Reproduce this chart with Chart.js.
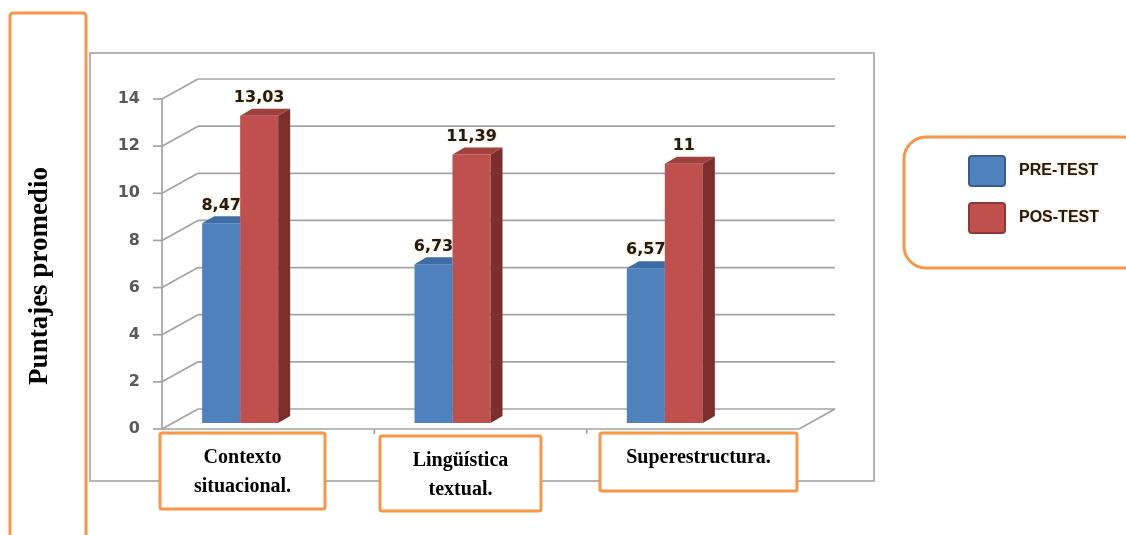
<!DOCTYPE html>
<html>
<head>
<meta charset="utf-8">
<script src="https://cdn.jsdelivr.net/npm/chart.js@4.4.1/dist/chart.umd.min.js"></script>
<style>
    html, body { margin: 0; padding: 0; background: #fff; }
    #wrap { width: 1126px; height: 535px; }
</style>
</head>
<body>
<div id="wrap"><canvas id="chart" width="1126" height="535"></canvas></div>
<script>
    // averages per dimension, before and after the programme
    const categories = [['Contexto', 'situacional.'], ['Lingüística', 'textual.'], ['Superestructura.']];
    const seriesNames = ['PRE-TEST', 'POS-TEST'];
    const preTest = [8.47, 6.73, 6.57];
    const posTest = [13.03, 11.39, 11];
    const yTicks = [0, 2, 4, 6, 8, 10, 12, 14];
    const yTitle = 'Puntajes promedio';

    const faces = [
        { front: '#4f81bd', top: '#3e6ca4', side: '#2f5686', edge: '#385d8a' },
        { front: '#c0504d', top: '#a1403d', side: '#7b2e2c', edge: '#8c3836' }
    ];
    const ORANGE = '#f79646';
    const GRID = '#a3a3a3';

    // fake 3D: offsets of the planes relative to the bars' front faces
    const DEPTH = { dx: 12, dy: -7 };
    const FRONT = { dx: 28, dy: 6 };
    const BACK = { dx: 64, dy: -14 };

    // boxes around the category names
    const labelBoxes = [
        { x: 160, y: 433, w: 165, h: 76 },
        { x: 380, y: 436, w: 161, h: 75 },
        { x: 600, y: 433, w: 197, h: 58 }
    ];

    function line(ctx, x1, y1, x2, y2) {
        ctx.beginPath();
        ctx.moveTo(x1, y1);
        ctx.lineTo(x2, y2);
        ctx.stroke();
    }

    function roundBox(ctx, x, y, w, h, r) {
        ctx.beginPath();
        ctx.roundRect(x, y, w, h, r);
        ctx.fillStyle = '#fff';
        ctx.fill();
        ctx.stroke();
    }

    function barRect(bar) {
        const p = bar.getProps(['x', 'y', 'width', 'base'], true);
        return { l: p.x - p.width / 2, r: p.x + p.width / 2, top: p.y, base: p.base, x: p.x };
    }

    const fake3d = {
        id: 'fake3d',
        beforeDraw(chart) {
            const ctx = chart.ctx;
            ctx.save();
            ctx.fillStyle = '#fff';
            ctx.fillRect(0, 0, chart.width, chart.height);
            // chart frame
            ctx.strokeStyle = '#b4b4b4';
            ctx.lineWidth = 2;
            ctx.strokeRect(90, 53, 784, 428);
            ctx.restore();
        },
        beforeDatasetsDraw(chart) {
            const ctx = chart.ctx;
            const area = chart.chartArea;
            const y = chart.scales.y;
            const fl = area.left + FRONT.dx, fr = area.right + FRONT.dx;
            const bl = area.left + BACK.dx, br = area.right + BACK.dx;
            ctx.save();
            ctx.strokeStyle = GRID;
            ctx.lineWidth = 1.7;
            yTicks.forEach(v => {
                const py = y.getPixelForValue(v);
                line(ctx, bl, py + BACK.dy, br, py + BACK.dy);
                line(ctx, fl, py + FRONT.dy, bl, py + BACK.dy);
                line(ctx, fl - 9, py + FRONT.dy, fl, py + FRONT.dy);
            });
            const top = y.getPixelForValue(yTicks[yTicks.length - 1]);
            const base = y.getPixelForValue(0);
            line(ctx, fl, top + FRONT.dy, fl, base + FRONT.dy);
            // floor
            line(ctx, fl, base + FRONT.dy, fr, base + FRONT.dy);
            line(ctx, fr, base + FRONT.dy, br, base + BACK.dy);
            const step = (area.right - area.left) / chart.data.labels.length;
            for (let i = 1; i < chart.data.labels.length; i++) {
                const px = area.left + step * i + FRONT.dx;
                line(ctx, px, base + FRONT.dy, px, base + FRONT.dy + 5);
            }
            // tick labels
            ctx.fillStyle = '#595959';
            ctx.font = 'bold 16px "DejaVu Sans"';
            ctx.textAlign = 'right';
            ctx.textBaseline = 'middle';
            yTicks.forEach(v => {
                ctx.fillText(String(v), fl - 22, y.getPixelForValue(v) + FRONT.dy);
            });
            ctx.restore();
        },
        afterDatasetsDraw(chart) {
            const ctx = chart.ctx;
            const metas = chart.data.datasets.map((ds, i) => chart.getDatasetMeta(i));

            // top and side faces; each bar is hidden behind the front of its right neighbour
            metas.forEach((meta, i) => {
                const c = faces[i];
                meta.data.forEach((bar, j) => {
                    const b = barRect(bar);
                    ctx.save();
                    if (metas[i + 1]) {
                        const n = barRect(metas[i + 1].data[j]);
                        ctx.beginPath();
                        ctx.rect(0, 0, chart.width, chart.height);
                        ctx.rect(n.l, n.top, n.r - n.l, n.base - n.top);
                        ctx.clip('evenodd');
                    }
                    ctx.fillStyle = c.top;
                    ctx.beginPath();
                    ctx.moveTo(b.l, b.top);
                    ctx.lineTo(b.l + DEPTH.dx, b.top + DEPTH.dy);
                    ctx.lineTo(b.r + DEPTH.dx, b.top + DEPTH.dy);
                    ctx.lineTo(b.r, b.top);
                    ctx.closePath();
                    ctx.fill();
                    ctx.fillStyle = c.side;
                    ctx.beginPath();
                    ctx.moveTo(b.r, b.top);
                    ctx.lineTo(b.r + DEPTH.dx, b.top + DEPTH.dy);
                    ctx.lineTo(b.r + DEPTH.dx, b.base + DEPTH.dy);
                    ctx.lineTo(b.r, b.base);
                    ctx.closePath();
                    ctx.fill();
                    ctx.restore();
                });
            });

            ctx.save();
            // value labels
            ctx.font = 'bold 16px "DejaVu Sans"';
            ctx.textAlign = 'center';
            ctx.textBaseline = 'middle';
            ctx.shadowColor = 'rgba(255, 190, 110, 0.7)';
            ctx.shadowBlur = 3;
            ctx.fillStyle = '#1c1c1c';
            chart.data.datasets.forEach((ds, i) => {
                metas[i].data.forEach((bar, j) => {
                    const b = barRect(bar);
                    ctx.fillText(String(ds.data[j]).replace('.', ','), b.x, b.top - 18);
                });
            });
            ctx.shadowBlur = 0;
            ctx.shadowColor = 'transparent';

            // category names in boxes
            ctx.strokeStyle = ORANGE;
            ctx.lineWidth = 3;
            ctx.font = 'bold 20px "Liberation Serif"';
            chart.data.labels.forEach((lab, i) => {
                const b = labelBoxes[i];
                roundBox(ctx, b.x, b.y, b.w, b.h, 2);
                ctx.fillStyle = '#000';
                lab.forEach((t, k) => ctx.fillText(t, b.x + b.w / 2, b.y + 25 + k * 29));
            });

            // axis title box
            ctx.beginPath();
            ctx.roundRect(10, 13, 76, 540, 3);
            ctx.stroke();
            ctx.save();
            ctx.translate(40, 276);
            ctx.rotate(-Math.PI / 2);
            ctx.font = 'bold 27px "Liberation Serif"';
            ctx.fillStyle = '#000';
            ctx.fillText(yTitle, 0, 0);
            ctx.restore();

            // legend
            roundBox(ctx, 904, 137, 240, 131, 22);
            ctx.textAlign = 'left';
            ctx.font = 'bold 16px "Liberation Sans"';
            chart.data.datasets.forEach((ds, i) => {
                const ty = 171 + i * 47;
                ctx.fillStyle = faces[i].front;
                ctx.strokeStyle = faces[i].edge;
                ctx.lineWidth = 2;
                ctx.beginPath();
                ctx.roundRect(969, ty - 15, 36, 30, 3);
                ctx.fill();
                ctx.stroke();
                ctx.shadowColor = 'rgba(255, 190, 110, 0.7)';
                ctx.shadowBlur = 3;
                ctx.fillStyle = '#1c1c1c';
                ctx.fillText(ds.label, 1019, ty);
                ctx.shadowBlur = 0;
                ctx.shadowColor = 'transparent';
            });
            ctx.restore();
        }
    };

    new Chart(document.getElementById('chart'), {
        type: 'bar',
        data: {
            labels: categories,
            datasets: [
                { label: seriesNames[0], data: preTest, backgroundColor: faces[0].front },
                { label: seriesNames[1], data: posTest, backgroundColor: faces[1].front }
            ]
        },
        options: {
            responsive: false,
            animation: false,
            devicePixelRatio: 1,
            layout: { padding: { left: 134, right: 355, top: 93, bottom: 112 } },
            datasets: { bar: { barPercentage: 1, categoryPercentage: 0.358, borderWidth: 0 } },
            scales: {
                x: { display: false },
                y: { display: false, min: 0, max: 14 }
            },
            plugins: { legend: { display: false }, tooltip: { enabled: false } }
        },
        plugins: [fake3d]
    });
</script>
</body>
</html>
